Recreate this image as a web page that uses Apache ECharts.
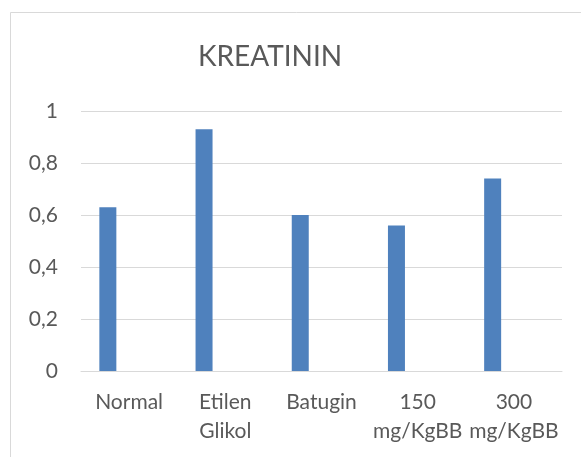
<!DOCTYPE html>
<html>
<head>
<meta charset="utf-8">
<script src="https://cdn.jsdelivr.net/npm/echarts@6/dist/echarts.min.js"></script>
<style>
  html, body { margin: 0; padding: 0; background: #fff; }
  #myChart { width: 581px; height: 457px; }
</style>
</head>
<body>
<div id="myChart"></div>
<script>
// kategori dan nilai kreatinin
var categories = ["Normal", "Etilen\nGlikol", "Batugin", "150\nmg/KgBB", "300\nmg/KgBB"];
var kreatinin = [0.63, 0.93, 0.60, 0.56, 0.74];
var emptySeries = [null, null, null, null, null];
var yTicks = [0, 0.2, 0.4, 0.6, 0.8, 1];

var FONT = "Lato, 'Open Sans', sans-serif";
var TEXT = "#595959";

var myChart = echarts.init(document.getElementById("myChart"));
var option = {
  animation: false,
  backgroundColor: "#fff",
  textStyle: { fontFamily: FONT },
  graphic: [
    {
      type: "rect",
      shape: { x: 10.5, y: 12.5, width: 700, height: 600 },
      style: { fill: "none", stroke: "#d9d9d9", lineWidth: 1 },
      silent: true
    }
  ],
  title: {
    text: "KREATININ",
    left: 265,
    top: 38,
    textAlign: "center",
    textStyle: { fontFamily: FONT, fontSize: 28, fontWeight: "normal", color: TEXT }
  },
  grid: { left: 81, right: 19, top: 111, bottom: 86, containLabel: false },
  xAxis: {
    type: "category",
    data: categories,
    axisLine: { lineStyle: { color: "#d9d9d9", width: 1 } },
    axisTick: { show: false },
    axisLabel: {
      interval: 0,
      margin: 17,
      color: TEXT,
      fontSize: 21,
      lineHeight: 29,
      fontFamily: FONT
    }
  },
  yAxis: {
    type: "value",
    min: 0,
    max: 1,
    interval: 0.2,
    axisLine: { show: false },
    axisTick: { show: false },
    splitLine: { lineStyle: { color: "#d9d9d9", width: 1 } },
    axisLabel: {
      margin: 23,
      color: TEXT,
      fontSize: 21,
      fontFamily: FONT,
      formatter: function (v) {
        var hit = yTicks.filter(function (t) { return Math.abs(t - v) < 1e-9; });
        return hit.length ? String(+v.toFixed(1)).replace(".", ",") : "";
      }
    }
  },
  series: [
    {
      name: "Kreatinin",
      type: "bar",
      data: kreatinin,
      barWidth: 17,
      barGap: "150%",
      itemStyle: { color: "#4f81bd" }
    },
    {
      name: "kosong",
      type: "bar",
      data: emptySeries,
      barWidth: 17
    }
  ]
};
myChart.setOption(option);
</script>
</body>
</html>
